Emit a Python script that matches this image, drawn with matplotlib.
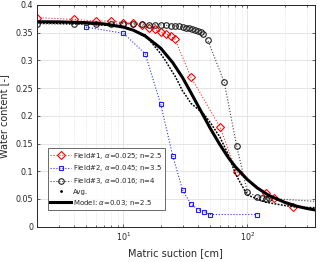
import numpy as np
import matplotlib
matplotlib.use("Agg")
import matplotlib.pyplot as plt
from matplotlib.lines import Line2D

# field data
f1_h = [2, 4, 6, 8, 10, 12, 14, 16, 18, 20, 22, 24, 26, 35, 60, 82, 140, 165, 235]
f1_theta = [0.377, 0.374, 0.371, 0.371, 0.368, 0.367, 0.363, 0.359, 0.356, 0.351,
            0.348, 0.344, 0.339, 0.270, 0.180, 0.099, 0.061, 0.051, 0.035]

f2_h = [5, 10, 15, 20, 25, 30, 35, 40, 45, 50, 120]
f2_theta = [0.360, 0.349, 0.312, 0.221, 0.128, 0.066, 0.041, 0.031, 0.027, 0.022, 0.022]

f3_h = [2, 4, 6, 8, 10, 12, 14, 16, 18, 20, 22, 24, 26, 28, 30, 32, 34, 36, 38, 40,
        42, 44, 48, 65, 82, 100, 120, 130, 140, 150, 400]
f3_theta = [0.366, 0.365, 0.365, 0.365, 0.3665, 0.3653, 0.3653, 0.3647, 0.3647, 0.364,
            0.3634, 0.3629, 0.3622, 0.3616, 0.3604, 0.3593, 0.358, 0.3562, 0.3544, 0.3526,
            0.3508, 0.3484, 0.336, 0.261, 0.145, 0.0625, 0.054, 0.052, 0.050, 0.051, 0.045]

avg_h = [2, 5, 10, 15, 20, 22, 24, 26, 28, 30, 32, 35, 40, 45, 50, 60, 70, 80, 90,
         100, 120, 140, 170, 200, 250, 350]
avg_theta = [0.3677, 0.3658, 0.3612, 0.346, 0.312, 0.2984, 0.2845, 0.2723, 0.2587,
             0.2449, 0.2361, 0.2227, 0.2119, 0.2021, 0.1884, 0.1617, 0.1307, 0.0957,
             0.0747, 0.0572, 0.0500, 0.0443, 0.0409, 0.0383, 0.0352, 0.0344]

model_h = [2, 3, 5, 7, 10, 12, 15, 20, 25, 30, 35, 40, 45, 50, 60, 70, 80, 100, 120,
           150, 200, 250, 300, 350]
model_theta = [0.3698, 0.3695, 0.3682, 0.3658, 0.360, 0.3546, 0.344, 0.322, 0.296,
               0.269, 0.242, 0.218, 0.197, 0.178, 0.148, 0.125, 0.108, 0.085, 0.070,
               0.056, 0.044, 0.037, 0.033, 0.0303]

y_ticks = [0, 0.05, 0.1, 0.15, 0.2, 0.25, 0.3, 0.35, 0.4]
y_labels = ["0", "0.05", "0.1", "0.15", "0.2", "0.25", "0.3", "0.35", "0.4"]

labels = [
    r"Field#1, $\alpha$=0.025; n=2.5",
    r"Field#2, $\alpha$=0.045; n=3.5",
    r"Field#3, $\alpha$=0.016; n=4",
    "Avg.",
    r"Model: $\alpha$=0.03; n=2.5",
]

txt = "#262626"


def main():
    fig = plt.figure(figsize=(3.2, 2.62), dpi=100)
    ax = fig.add_axes([0.1147, 0.1347, 0.8693, 0.8463])

    ax.plot(f1_h, f1_theta, ls=":", color="#ff3030", lw=0.8, marker="D", ms=3.6,
            mfc="none", mec="#ff0000", mew=0.8)
    ax.plot(f2_h, f2_theta, ls=":", color="#3030ff", lw=0.8, marker="s", ms=3.2,
            mfc="none", mec="#2020ff", mew=0.8)
    ax.plot(f3_h, f3_theta, ls=":", color="#404040", lw=0.8, marker="o", ms=4,
            mfc="none", mec="#202020", mew=0.8)
    ax.plot(avg_h, avg_theta, ls=(0, (1.2, 0.9)), color="k", lw=1.1)
    ax.plot(model_h, model_theta, ls="-", color="k", lw=2.2)

    ax.set_xscale("log")
    ax.set_xlim(2, 350)
    ax.set_ylim(0, 0.4)
    ax.set_yticks(y_ticks)
    ax.set_yticklabels(y_labels)
    ax.set_xticks([10, 100])
    ax.set_xticklabels([r"$10^1$", r"$10^2$"])

    ax.grid(True, which="major", color="#e0e0e0", lw=0.6, ls="-")
    ax.grid(True, which="minor", axis="x", color="#d8d8d8", lw=0.5, ls=":")
    ax.set_axisbelow(True)

    ax.tick_params(which="both", direction="in", top=True, right=True,
                   colors=txt, labelsize=5.8, length=2.5, width=0.5, pad=2.5)
    ax.tick_params(which="minor", length=1.5, labelbottom=False)
    for s in ax.spines.values():
        s.set_color(txt)
        s.set_linewidth(0.7)

    ax.set_xlabel("Matric suction [cm]", fontsize=7, color=txt)
    ax.xaxis.set_label_coords(0.5, -0.095)
    ax.set_ylabel("Water content [-]", fontsize=7, color=txt)
    ax.yaxis.set_label_coords(-0.098, 0.5)

    handles = [
        Line2D([], [], ls=":", color="#ff3030", lw=0.8, marker="D", ms=3.6,
               mfc="none", mec="#ff0000", mew=0.8),
        Line2D([], [], ls=":", color="#3030ff", lw=0.8, marker="s", ms=3.2,
               mfc="none", mec="#2020ff", mew=0.8),
        Line2D([], [], ls=":", color="#404040", lw=0.8, marker="o", ms=4,
               mfc="none", mec="#202020", mew=0.8),
        Line2D([], [], ls="none", color="k", marker=".", ms=2),
        Line2D([], [], ls="-", color="k", lw=2.2),
    ]
    leg = ax.legend(handles, labels, loc="lower left", bbox_to_anchor=(0.0395, 0.075),
                    borderaxespad=0, fontsize=5.0, frameon=True, fancybox=False,
                    handlelength=3.0, handletextpad=0.3, labelspacing=0.4,
                    borderpad=0.35)
    leg.get_frame().set_edgecolor(txt)
    leg.get_frame().set_linewidth(0.6)
    for t in leg.get_texts():
        t.set_color(txt)

    fig.savefig("out.png", dpi=100)


if __name__ == "__main__":
    main()
